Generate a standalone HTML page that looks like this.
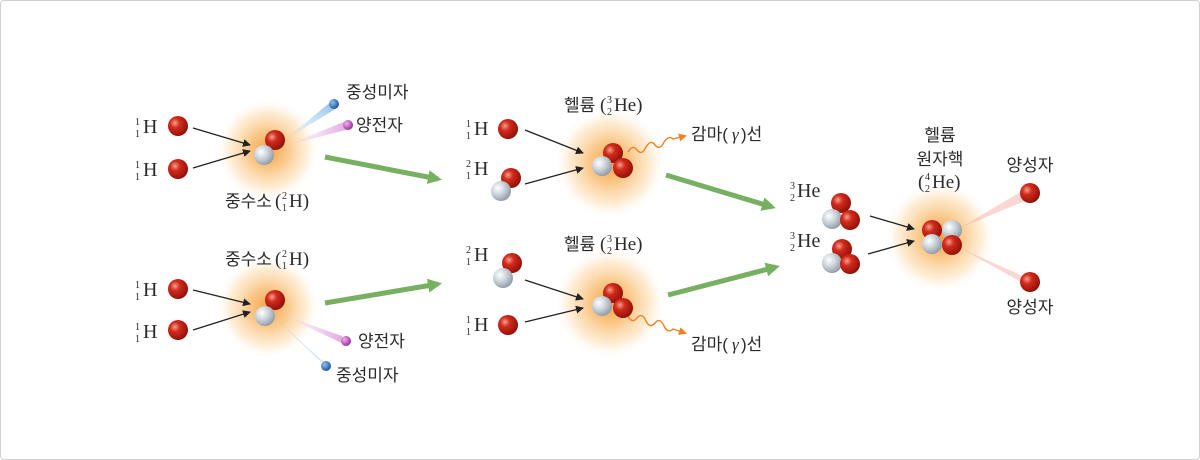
<!DOCTYPE html>
<html><head><meta charset="utf-8"><style>
html,body{margin:0;padding:0;background:#fff;}
.f{position:absolute;left:0;top:0;width:1198px;height:458px;border:1px solid #d0d0d0;border-radius:4px;}
svg{position:absolute;left:0;top:0}
.k{font-family:"Liberation Sans","Noto Sans CJK KR",sans-serif;font-size:17px;fill:#2a2a2a}
.s{font-family:"Liberation Serif",serif;fill:#2a2a2a}
</style></head><body><div class="f"></div>
<svg width="1200" height="460" viewBox="0 0 1200 460">
<defs>
<radialGradient id="r" cx="35%" cy="35%" r="70%"><stop offset="0" stop-color="#f4a08a"/><stop offset="0.35" stop-color="#d22a1c"/><stop offset="1" stop-color="#8e1008"/></radialGradient>
<radialGradient id="g" cx="35%" cy="35%" r="70%"><stop offset="0" stop-color="#ffffff"/><stop offset="0.5" stop-color="#c9d1d8"/><stop offset="1" stop-color="#8f99a3"/></radialGradient>
<radialGradient id="b" cx="35%" cy="35%" r="70%"><stop offset="0" stop-color="#8fc0f0"/><stop offset="1" stop-color="#1b4f9a"/></radialGradient>
<radialGradient id="p" cx="35%" cy="35%" r="70%"><stop offset="0" stop-color="#f0b0f0"/><stop offset="1" stop-color="#9a2a9a"/></radialGradient>
<radialGradient id="st"><stop offset="0" stop-color="#f5a040" stop-opacity="1"/><stop offset="0.4" stop-color="#f9c078" stop-opacity="0.85"/><stop offset="0.75" stop-color="#fcdcae" stop-opacity="0.55"/><stop offset="1" stop-color="#fff2e0" stop-opacity="0"/></radialGradient>
<linearGradient id="bl" x1="0" y1="1" x2="1" y2="0"><stop offset="0" stop-color="#b8d8f0" stop-opacity="0"/><stop offset="1" stop-color="#6aa8e0" stop-opacity="0.8"/></linearGradient>
<linearGradient id="pl" x1="0" y1="0" x2="1" y2="0"><stop offset="0" stop-color="#f0c8f0" stop-opacity="0"/><stop offset="1" stop-color="#d890d8" stop-opacity="0.8"/></linearGradient>
<marker id="a" markerWidth="8" markerHeight="8" refX="7" refY="4" orient="auto" markerUnits="userSpaceOnUse"><path d="M0,0 L8,4 L0,8 z" fill="#222"/></marker>
<marker id="ga" markerWidth="14" markerHeight="14" refX="10" refY="7" orient="auto" markerUnits="userSpaceOnUse"><path d="M0,0 L14,7 L0,14 z" fill="#6aa850"/></marker>
<marker id="oa" markerWidth="8" markerHeight="8" refX="6" refY="4" orient="auto" markerUnits="userSpaceOnUse"><path d="M0,0 L8,4 L0,8 z" fill="#f08020"/></marker>
</defs>

<circle cx="268" cy="150" r="50" fill="url(#st)"/>
<circle cx="268" cy="307" r="50" fill="url(#st)"/>
<circle cx="610" cy="163" r="54" fill="url(#st)"/>
<circle cx="610" cy="303" r="54" fill="url(#st)"/>
<circle cx="940" cy="237" r="54" fill="url(#st)"/>

<polygon points="282,142 333,100 337,108" fill="url(#bl)"/>
<polygon points="285,146 346,121 349,129" fill="url(#pl)"/>
<polygon points="280,314 342,336 344,344" fill="url(#pl)" />
<polygon points="275,318 321,362 328,366" fill="url(#bl)"/>
<polygon points="960,228 1027,188 1032,198" fill="#f6b0a8" opacity="0.5"/>
<polygon points="960,248 1027,278 1032,288" fill="#f6b0a8" opacity="0.5"/>

<g stroke="#222" stroke-width="1.3" fill="none" marker-end="url(#a)">
<line x1="193" y1="128" x2="250" y2="145"/><line x1="193" y1="168" x2="250" y2="151"/>
<line x1="193" y1="290" x2="250" y2="304"/><line x1="193" y1="330" x2="250" y2="312"/>
<line x1="525" y1="130" x2="583" y2="153"/><line x1="525" y1="184" x2="583" y2="168"/>
<line x1="525" y1="280" x2="583" y2="299"/><line x1="525" y1="322" x2="583" y2="308"/>
<line x1="870" y1="216" x2="914" y2="229"/><line x1="868" y1="254" x2="914" y2="241"/>
</g>
<g stroke="#6aa850" stroke-width="5" fill="none" marker-end="url(#ga)" opacity="0.9">
<line x1="325" y1="157" x2="438" y2="179"/>
<line x1="325" y1="303" x2="438" y2="284"/>
<line x1="666" y1="175" x2="772" y2="207"/>
<line x1="668" y1="295" x2="776" y2="267"/>
</g>
<g stroke="#f08020" stroke-width="1.4" fill="none" marker-end="url(#oa)">
<path d="M628,152 q5,-8 9,-2 q5,6 9,-3 q5,-8 9,-2 q5,6 9,-3 q5,-7 9,-3 l12,-3"/>
<path d="M628,316 q4,8 9,2 q5,-6 9,3 q4,8 9,2 q5,-6 9,3 q4,8 9,3 l12,4"/>
</g>

<g>
<circle cx="178" cy="126" r="10" fill="url(#r)"/><circle cx="178" cy="169" r="10" fill="url(#r)"/>
<circle cx="275" cy="140" r="10" fill="url(#r)"/><circle cx="264" cy="155" r="10" fill="url(#g)"/>
<circle cx="334" cy="104" r="5" fill="url(#b)"/><circle cx="348" cy="125" r="5" fill="url(#p)"/>
<circle cx="178" cy="289" r="10" fill="url(#r)"/><circle cx="178" cy="330" r="10" fill="url(#r)"/>
<circle cx="275" cy="300" r="10" fill="url(#r)"/><circle cx="265" cy="316" r="10" fill="url(#g)"/>
<circle cx="346" cy="341" r="5" fill="url(#p)"/><circle cx="326" cy="366" r="5" fill="url(#b)"/>
<circle cx="508" cy="129" r="10" fill="url(#r)"/>
<circle cx="511" cy="178" r="10" fill="url(#r)"/><circle cx="501" cy="191" r="10" fill="url(#g)"/>
<circle cx="613" cy="153" r="10" fill="url(#r)"/><circle cx="602" cy="166" r="10" fill="url(#g)"/><circle cx="623" cy="168" r="10" fill="url(#r)"/>
<circle cx="512" cy="263" r="10" fill="url(#r)"/><circle cx="503" cy="278" r="10" fill="url(#g)"/>
<circle cx="508" cy="325" r="10" fill="url(#r)"/>
<circle cx="613" cy="293" r="10" fill="url(#r)"/><circle cx="602" cy="306" r="10" fill="url(#g)"/><circle cx="623" cy="308" r="10" fill="url(#r)"/>
<circle cx="841" cy="203" r="10" fill="url(#r)"/><circle cx="832" cy="219" r="10" fill="url(#g)"/><circle cx="850" cy="220" r="10" fill="url(#r)"/>
<circle cx="842" cy="249" r="10" fill="url(#r)"/><circle cx="832" cy="263" r="10" fill="url(#g)"/><circle cx="850" cy="264" r="10" fill="url(#r)"/>
<circle cx="932" cy="230" r="10" fill="url(#r)"/><circle cx="952" cy="230" r="10" fill="url(#g)"/><circle cx="932" cy="244" r="10" fill="url(#g)"/><circle cx="952" cy="245" r="10" fill="url(#r)"/>
<circle cx="1030" cy="193" r="10" fill="url(#r)"/><circle cx="1030" cy="282" r="10" fill="url(#r)"/>
</g>

<g class="s">
<text x="135" y="125" font-size="10">1</text><text x="135" y="137" font-size="10">1</text><text x="143" y="133" font-size="20">H</text>
<text x="135" y="168" font-size="10">1</text><text x="135" y="180" font-size="10">1</text><text x="143" y="176" font-size="20">H</text>
<text x="135" y="288" font-size="10">1</text><text x="135" y="300" font-size="10">1</text><text x="143" y="296" font-size="20">H</text>
<text x="135" y="330" font-size="10">1</text><text x="135" y="342" font-size="10">1</text><text x="143" y="338" font-size="20">H</text>
<text x="466" y="127" font-size="10">1</text><text x="466" y="139" font-size="10">1</text><text x="474" y="135" font-size="20">H</text>
<text x="466" y="167" font-size="10">2</text><text x="466" y="179" font-size="10">1</text><text x="474" y="175" font-size="20">H</text>
<text x="466" y="253" font-size="10">2</text><text x="466" y="265" font-size="10">1</text><text x="474" y="261" font-size="20">H</text>
<text x="466" y="323" font-size="10">1</text><text x="466" y="335" font-size="10">1</text><text x="474" y="331" font-size="20">H</text>
<text x="790" y="189" font-size="10">3</text><text x="790" y="201" font-size="10">2</text><text x="797" y="197" font-size="20">He</text>
<text x="790" y="239" font-size="10">3</text><text x="790" y="251" font-size="10">2</text><text x="797" y="247" font-size="20">He</text>
</g>

<g class="k">
<text x="346" y="98">중성미자</text>
<text x="356" y="131">양전자</text>
<text x="225" y="207">중수소</text><text x="275" y="207" class="s" font-size="19">(</text><text x="282" y="199" class="s" font-size="10">2</text><text x="282" y="211" class="s" font-size="10">1</text><text x="289" y="207" class="s" font-size="19">H)</text>
<text x="225" y="265">중수소</text><text x="275" y="265" class="s" font-size="19">(</text><text x="282" y="257" class="s" font-size="10">2</text><text x="282" y="269" class="s" font-size="10">1</text><text x="289" y="265" class="s" font-size="19">H)</text>
<text x="358" y="347">양전자</text>
<text x="336" y="381">중성미자</text>
<text x="564" y="111">헬륨</text><text x="600" y="111" class="s" font-size="19">(</text><text x="607" y="103" class="s" font-size="10">3</text><text x="607" y="115" class="s" font-size="10">2</text><text x="614" y="111" class="s" font-size="19">He)</text>
<text x="564" y="250">헬륨</text><text x="600" y="250" class="s" font-size="19">(</text><text x="607" y="242" class="s" font-size="10">3</text><text x="607" y="254" class="s" font-size="10">2</text><text x="614" y="250" class="s" font-size="19">He)</text>
<text x="691" y="140">감마(</text><text x="732" y="140" class="s" font-style="italic" font-size="17">γ</text><text x="741" y="140">)선</text>
<text x="691" y="350">감마(</text><text x="732" y="350" class="s" font-style="italic" font-size="17">γ</text><text x="741" y="350">)선</text>
<text x="940" y="141" text-anchor="middle">헬륨</text>
<text x="940" y="165" text-anchor="middle">원자핵</text>
<text x="918" y="188" class="s" font-size="19">(</text><text x="925" y="180" class="s" font-size="10">4</text><text x="925" y="192" class="s" font-size="10">2</text><text x="932" y="188" class="s" font-size="19">He)</text>
<text x="1030" y="171" text-anchor="middle">양성자</text>
<text x="1030" y="313" text-anchor="middle">양성자</text>
</g>
</svg>
</body></html>
